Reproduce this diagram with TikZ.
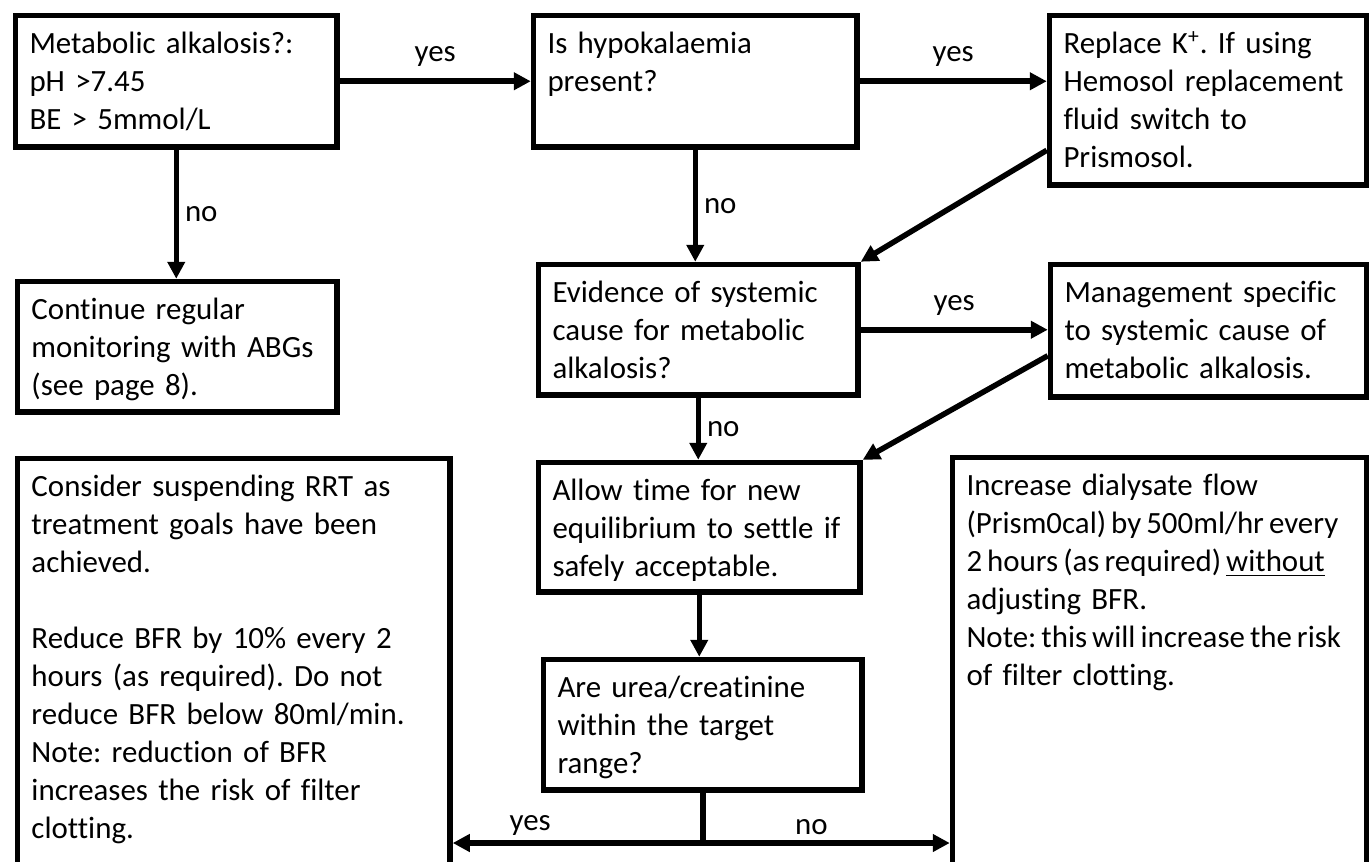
\documentclass[tikz,border=0pt]{standalone}
\usepackage{fontspec}
\setmainfont{Carlito}[Ligatures=NoCommon]
\usetikzlibrary{arrows.meta,positioning}
\newcommand{\boxfont}{\fontsize{15.45pt}{19pt}\selectfont\frenchspacing\spaceskip=0.85\fontdimen2\font plus 0.1em\relax}
\newcommand{\tightline}[1]{\mbox{\spaceskip=0.72\fontdimen2\font\relax #1}}

\begin{document}
\begin{tikzpicture}[x=0.5pt, y=-0.5pt,
  box/.style={draw, line width=2.75pt, rectangle, anchor=north west, align=left, inner xsep=7pt, inner ysep=7pt, text height=12.2pt, font=\boxfont},
  arr/.style={-{Triangle[length=8.5pt,width=8.5pt]}, line width=2.75pt},
  lbl/.style={font=\boxfont, inner sep=0pt}]
\useasboundingbox (0,0) rectangle (1369,861);
\clip (0,0) rectangle (1369,861);

\node[box, text width=146.75pt, text depth=39.55pt] (alk) at (12.75,12.75) {Metabolic alkalosis?:\\pH >7.45\\BE > 5mmol/L};
\node[box, text width=147.75pt, text depth=39.55pt] (hypo) at (530.75,12.75) {Is hypokalaemia\\present?};
\node[box, text width=144.75pt, text depth=58.55pt] (repl) at (1046.75,12.75) {Replace K\textsuperscript{+}. If using\\\mbox{Hemosol replacement}\\fluid switch to\\Prismosol.};

\node[box, text width=145.75pt, text depth=39.05pt] (cont) at (14.75,278.75) {Continue regular\\\mbox{monitoring with ABGs}\\(see page 8).};
\node[box, text width=145.75pt, text depth=39.05pt] (syst) at (535.75,261.75) {Evidence of systemic\\cause for metabolic\\alkalosis?};
\node[box, text width=144.25pt, text depth=40.05pt] (mgmt) at (1047.75,261.75) {\mbox{Management specific}\\to systemic cause of\\metabolic alkalosis.};

\node[box, text width=146.75pt, text depth=38.55pt] (allow) at (535.75,459.75) {Allow time for new\\\mbox{equilibrium to settle if}\\safely acceptable.};
\node[box, text width=145.25pt, text depth=39.05pt] (urea) at (540.75,656.75) {Are urea/creatinine\\within the target\\range?};

\node[box, text width=202.25pt, text depth=204.55pt] (susp) at (14.75,455.75) {Consider suspending RRT as\\treatment goals have been\\achieved.\\[19pt]\mbox{Reduce BFR by 10\% every 2}\\\mbox{hours (as required). Do not}\\\mbox{reduce BFR below 80ml/min.}\\Note: reduction of BFR\\increases the risk of filter\\clotting.};
\node[box, text width=193.25pt, text depth=205.05pt] (incr) at (949.75,454.75) {Increase dialysate flow\\\tightline{(Prism0cal) by 500ml/hr every}\\\tightline{2 hours (as required) \underline{without}}\\adjusting BFR.\\\tightline{Note: this will increase the risk}\\of filter clotting.};

% yes / no branches
\draw[arr] (alk.east) -- node[lbl, above=6pt] (yes1) {yes} (hypo.west);
\draw[arr] (hypo.east) -- node[lbl, above=6pt] (yes2) {yes} (hypo.east -| repl.west);
\draw[arr] (alk.south) -- node[lbl, right=3pt] (no1) {no} (alk.south |- cont.north);
\draw[arr] (hypo.south) -- node[lbl, right=3pt] (no2) {no} (hypo.south |- syst.north);
\draw[arr] ([yshift=-25pt]repl.west) -- (syst.north east);
\draw[arr] (syst.east) -- node[lbl, above=6pt] (yes3) {yes} (syst.east -| mgmt.west);
\draw[arr] (syst.south) -- node[lbl, right=3pt] (no3) {no} (syst.south |- allow.north);
\draw[arr] ([yshift=-12.5pt]mgmt.west) -- (allow.north east);
\draw[arr] (allow.south) -- (allow.south |- urea.north);

\coordinate (split) at (urea.south |- 0,843);
\draw[line width=2.75pt] (urea.south) -- (split);
\draw[arr] (split) -- node[lbl, pos=0.69, above=2.6pt] (yes4) {yes} (split -| susp.east);
\draw[arr] (split) -- node[lbl, pos=0.44, above=2.6pt] (no4) {no} (split -| incr.west);
\end{tikzpicture}
\end{document}
